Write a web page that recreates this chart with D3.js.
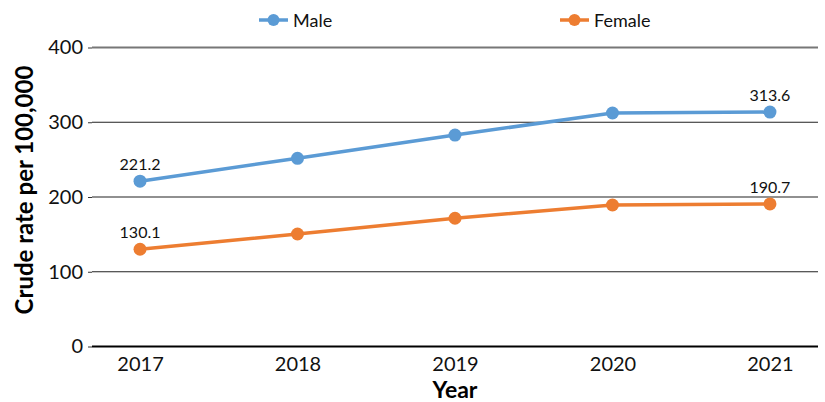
<!DOCTYPE html>
<html><head><meta charset="utf-8">
<script src="https://cdn.jsdelivr.net/npm/d3@7"></script>
<style>body{margin:0;background:#fff;} svg{display:block;font-family:Lato,"Open Sans",sans-serif;}</style>
</head><body>
<svg id="c" width="825" height="402"></svg>
<script>
const years = ["2017","2018","2019","2020","2021"];
const male = [221.2, 251.8, 282.9, 312.4, 313.6];
const female = [130.1, 150.5, 171.6, 189.3, 190.7];
const yTicks = [0,100,200,300,400];
const seriesNames = ["Male","Female"];
const colors = ["#5B9BD5","#ED7D31"];

const svg = d3.select("#c");
const L=92, R=818, T=47.5, B=346.5;
const x = d3.scalePoint().domain(years).range([L,R]).padding(0.305);
const y = d3.scaleLinear().domain([0,400]).range([B,T]);

// gridlines
svg.append("g").selectAll("line").data(yTicks).join("line")
  .attr("x1",L).attr("x2",R).attr("y1",d=>y(d)).attr("y2",d=>y(d))
  .attr("stroke",d=>d===0?"#000":(d===400?"#777":"#222"))
  .attr("stroke-width",d=>d===0?2:(d===400?2:1.2));
// y ticks
const ya = svg.append("g").attr("transform",`translate(${L},0)`)
  .call(d3.axisLeft(y).tickValues(yTicks).tickSize(4).tickPadding(5));
ya.select(".domain").remove();
ya.selectAll("text").attr("font-size",20).attr("fill","#111").style("font-family","Lato, sans-serif");
ya.selectAll("line").attr("stroke","#333");
// x labels
const xa = svg.append("g").attr("transform",`translate(0,${B})`)
  .call(d3.axisBottom(x).tickSize(0).tickPadding(10));
xa.select(".domain").remove();
xa.selectAll("text").attr("font-size",20).attr("fill","#111").style("font-family","Lato, sans-serif");

// titles
svg.append("text").attr("x",455).attr("y",398).attr("text-anchor","middle")
  .attr("font-size",23).attr("font-weight","bold").text("Year");
svg.append("text").attr("transform","translate(33,190) rotate(-90)").attr("text-anchor","middle")
  .attr("font-size",24).attr("font-weight","bold").text("Crude rate per 100,000");

const data = [male,female];
const line = d3.line().x((d,i)=>x(years[i])).y(d=>y(d));
data.forEach((s,k)=>{
  svg.append("path").datum(s).attr("d",line).attr("fill","none")
    .attr("stroke",colors[k]).attr("stroke-width",3.5);
  svg.append("g").selectAll("circle").data(s).join("circle")
    .attr("cx",(d,i)=>x(years[i])).attr("cy",d=>y(d)).attr("r",6.5).attr("fill",colors[k]);
  [0,4].forEach(i=>{
    svg.append("text").attr("x",x(years[i])).attr("y",y(s[i])-11).attr("text-anchor","middle")
      .attr("font-size",16).attr("fill","#111").text(s[i].toFixed(1));
  });
});

// legend
const lg = [{x:259},{x:560}];
seriesNames.forEach((n,k)=>{
  const g = svg.append("g").attr("transform",`translate(${lg[k].x},20)`);
  g.append("line").attr("x1",0).attr("x2",29).attr("y1",0).attr("y2",0).attr("stroke",colors[k]).attr("stroke-width",3.5);
  g.append("circle").attr("cx",14.5).attr("cy",0).attr("r",6).attr("fill",colors[k]);
  g.append("text").attr("x",34).attr("y",6.5).attr("font-size",18).attr("fill","#111").text(n);
});
</script>
</body></html>
